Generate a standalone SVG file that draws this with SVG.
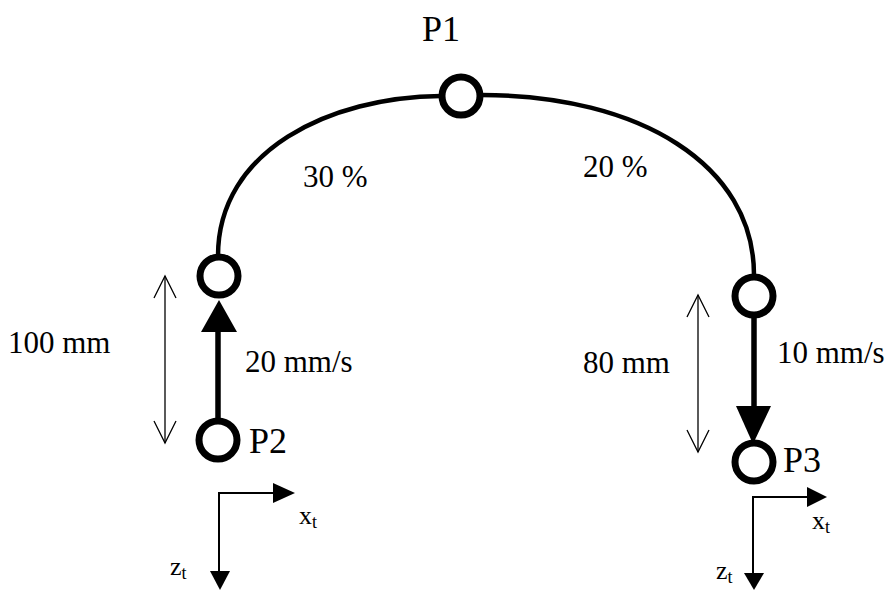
<svg xmlns="http://www.w3.org/2000/svg" width="887" height="590" viewBox="0 0 887 590">
<style>
text{font-family:"Liberation Serif","DejaVu Serif","Times New Roman",serif;fill:#000}
.lbl{font-size:31px}
.pt{font-size:36px}
.ax{font-size:26px}
.sub{font-size:18px}
.node{fill:#fff;stroke:#000;stroke-width:7}
.arc{fill:none;stroke:#000;stroke-width:4.5}
.thick{stroke:#000;stroke-width:5.5}
.thin{stroke:#000;stroke-width:1.3;fill:none}
.axl{stroke:#000;stroke-width:2;fill:none}
</style>
<rect width="887" height="590" fill="#fff"/>
<g id="connectors">
<path class="arc" d="M218,256 C218,150 330,97 441,96"/>
<path class="arc" d="M481,95 C640,95 754,165 754,275"/>
<line class="thick" x1="218" y1="420" x2="218" y2="330"/>
<polygon points="201,332 237,332 219,300"/>
<line class="thick" x1="754" y1="318" x2="754" y2="410"/>
<polygon points="736,406 771,406 753,444"/>
<g id="dim-left">
<line class="thin" x1="165" y1="276" x2="165" y2="443"/>
<polyline class="thin" points="154,298 165,276 176,298"/>
<polyline class="thin" points="154,421 165,443 176,421"/>
</g>
<g id="dim-right">
<line class="thin" x1="698" y1="295" x2="698" y2="452"/>
<polyline class="thin" points="687,317 698,295 709,317"/>
<polyline class="thin" points="687,430 698,452 709,430"/>
</g>
</g>
<g id="node-P1"><circle class="node" cx="461" cy="96" r="19"/><text class="pt" x="422" y="41">P1</text></g>
<g id="node-A"><circle class="node" cx="219" cy="276" r="19"/></g>
<g id="node-P2"><circle class="node" cx="218" cy="440" r="19"/><text class="pt" x="249" y="453">P2</text></g>
<g id="node-B"><circle class="node" cx="754" cy="296" r="19"/></g>
<g id="node-P3"><circle class="node" cx="754" cy="462" r="19"/><text class="pt" x="783" y="472">P3</text></g>
<g id="labels">
<text class="lbl" x="303" y="187">30 %</text>
<text class="lbl" x="583" y="177">20 %</text>
<text class="lbl" x="8" y="353">100 mm</text>
<text class="lbl" x="245" y="372">20 mm/s</text>
<text class="lbl" x="583" y="373">80 mm</text>
<text class="lbl" x="777" y="363">10 mm/s</text>
</g>
<g id="frame-left">
<polyline class="axl" points="275,493 219,493 219,572"/>
<polygon points="273,483 295,493 273,503"/>
<polygon points="210,571 230,571 220,590"/>
<text class="ax" x="299" y="524">x<tspan class="sub" dy="4">t</tspan></text>
<text class="ax" x="170" y="575">z<tspan class="sub" dy="4">t</tspan></text>
</g>
<g id="frame-right">
<polyline class="axl" points="809,497 753,497 753,574"/>
<polygon points="807,487 827,497 807,507"/>
<polygon points="744,573 764,573 754,590"/>
<text class="ax" x="812" y="529">x<tspan class="sub" dy="4">t</tspan></text>
<text class="ax" x="716" y="579">z<tspan class="sub" dy="4">t</tspan></text>
</g>
</svg>
